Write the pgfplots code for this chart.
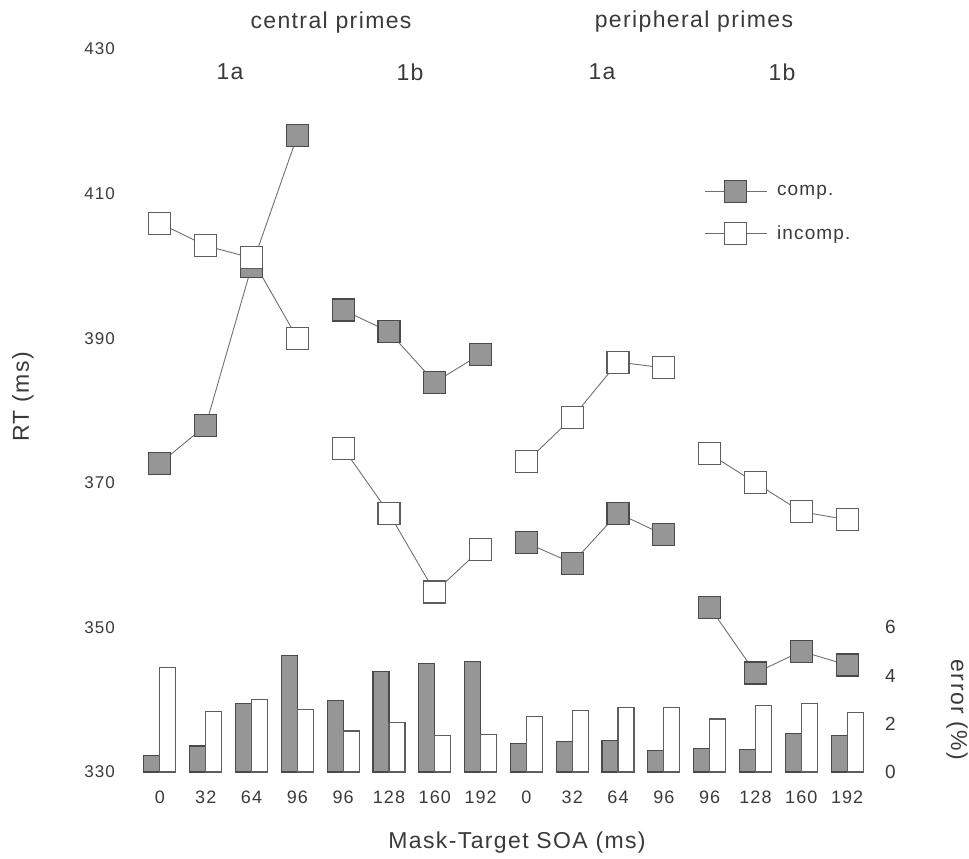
\documentclass[border=0pt]{standalone}
\usepackage{fontspec}
\setmainfont{Liberation Sans}[LetterSpace=6]
\usepackage{pgfplots}
\pgfplotsset{compat=1.18}
\definecolor{txt}{HTML}{3A3A3A}
\definecolor{ln}{HTML}{707070}
\definecolor{compfill}{HTML}{969696}
\definecolor{compdraw}{HTML}{4A4A4A}
\definecolor{incdraw}{HTML}{5E5E5E}
\begin{document}
\begin{tikzpicture}[text=txt]
\useasboundingbox (0pt,0pt) rectangle (969pt,-859pt);
% error bars (right axis)
\begin{axis}[
  at={(137pt,-772pt)}, anchor=south west, scale only axis,
  width=733pt, height=723pt,
  xmin=-0.5, xmax=15.5, ymin=0, ymax=30,
  axis line style={draw=none}, tick style={draw=none}, major tick length=0pt,
  xtick=\empty, ytick={0,2,4,6},
  yticklabel pos=right,
  /pgf/number format/assume math mode=true,
  yticklabel style={font=\fontsize{19}{19}\selectfont, inner sep=0pt, anchor=west, xshift=15pt, text=txt},
  ybar, bar width=16pt, clip=false,
]
\addplot[fill=compfill, draw=compdraw, line width=1.1pt, bar shift=-8pt] coordinates {
(0,0.67)(1,1.08)(2,2.83)(3,4.83)(4,2.96)(5,4.17)(6,4.5)(7,4.6)
(8,1.17)(9,1.25)(10,1.29)(11,0.88)(12,0.96)(13,0.92)(14,1.58)(15,1.5)};
\addplot[fill=white, draw=incdraw, line width=1.1pt, bar shift=8pt] coordinates {
(0,4.33)(1,2.5)(2,3.0)(3,2.6)(4,1.7)(5,2.04)(6,1.5)(7,1.54)
(8,2.29)(9,2.54)(10,2.67)(11,2.67)(12,2.2)(13,2.75)(14,2.83)(15,2.46)};
\end{axis}
% RT axis
\begin{axis}[
  at={(137pt,-772pt)}, anchor=south west, scale only axis,
  width=733pt, height=723pt,
  xmin=-0.5, xmax=15.5, ymin=330, ymax=430,
  axis line style={draw=none}, tick style={draw=none}, major tick length=0pt,
  ytick={330,350,...,430},
  xtick={0,...,15},
  xticklabels={0,32,64,96,96,128,160,192,0,32,64,96,96,128,160,192},
  /pgf/number format/assume math mode=true,
  yticklabel style={font=\fontsize{17}{17}\selectfont, inner sep=0pt, anchor=east, xshift=-22pt, text=txt},
  xticklabel style={font=\fontsize{18}{18}\selectfont, inner sep=0pt, anchor=north, yshift=-19pt, text=txt},
  clip=false, unbounded coords=jump,
  legend image code/.code={\draw[mark repeat=2,mark phase=2,#1] plot coordinates {(0pt,0pt)(31pt,0pt)(62pt,0pt)};},
  legend style={draw=none, fill=none, inner sep=0pt, at={(0.7735,0.7739)}, anchor=west,
    font=\fontsize{19}{19}\selectfont, row sep=20pt, column sep=10pt,
    nodes={inner sep=0pt, text=txt}},
  legend cell align=left,
]
\addplot[color=ln, line width=0.9pt, mark=square*,
  mark options={fill=compfill, draw=compdraw, line width=1.1pt}, mark size=11pt] coordinates {
(0,372.7)(1,377.9)(2,399.9)(3,418.0)(3.5,nan)
(4,393.9)(5,390.9)(6,383.9)(7,387.8)(7.5,nan)
(8,361.7)(9,358.9)(10,365.8)(11,362.8)(11.5,nan)
(12,352.8)(13,343.7)(14,346.7)(15,344.8)};
\addlegendentry{comp.}
\addplot[color=ln, line width=0.9pt, mark=square*,
  mark options={fill=white, draw=incdraw, line width=1.1pt}, mark size=11pt] coordinates {
(0,405.9)(1,402.8)(2,401.1)(3,390.0)(3.5,nan)
(4,374.8)(5,365.8)(6,354.9)(7,360.8)(7.5,nan)
(8,372.9)(9,379.0)(10,386.7)(11,385.9)(11.5,nan)
(12,374.0)(13,370.0)(14,366.0)(15,364.9)};
\addlegendentry{incomp.}
\end{axis}
\node[font=\fontsize{23}{23}\selectfont] at (331pt,-23pt) {central primes};
\node[font=\fontsize{23}{23}\selectfont] at (694pt,-22pt) {peripheral primes};
\node[font=\fontsize{23}{23}\selectfont] at (230pt,-72pt) {1a};
\node[font=\fontsize{23}{23}\selectfont] at (410pt,-72pt) {1b};
\node[font=\fontsize{23}{23}\selectfont] at (602pt,-72pt) {1a};
\node[font=\fontsize{23}{23}\selectfont] at (782pt,-72pt) {1b};
\node[font=\fontsize{23}{23}\selectfont, rotate=90] at (23pt,-397pt) {RT (ms)};
\node[font=\fontsize{23}{23}\selectfont, rotate=-90] at (957pt,-710pt) {error (\%)};
\node[font=\fontsize{23}{23}\selectfont] at (517pt,-843pt) {Mask-Target SOA (ms)};
\end{tikzpicture}
\end{document}
